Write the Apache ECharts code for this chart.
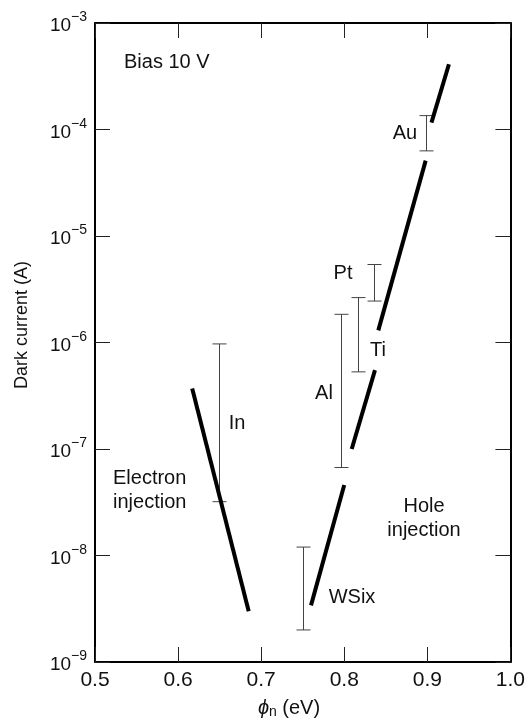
<!DOCTYPE html>
<html lang="en">
<head>
  <meta charset="UTF-8">
  <title>Dark current vs barrier height</title>
  <style>
    body { margin: 0; padding: 0; background: #fff; }
    #chart-container { width: 528px; height: 720px; }
  </style>
</head>
<body>
  <div id="chart-container"></div>
  <script src="https://cdn.jsdelivr.net/npm/echarts@6/dist/echarts.min.js"></script>
  <script>
// ticks
var xTicks = [0.5, 0.6, 0.7, 0.8, 0.9, 1.0];
var yDecades = [-9, -8, -7, -6, -5, -4, -3];

// thick trend lines (phi_n in eV, current in A)
var electronLine = [[0.617, 3.7e-7], [0.685, 3.0e-9]];
var holeSegments = [
  [[0.760, 3.4e-9], [0.800, 4.6e-8]],
  [[0.809, 1.0e-7], [0.837, 5.5e-7]],
  [[0.841, 1.3e-6], [0.898, 5.1e-5]],
  [[0.905, 1.16e-4], [0.926, 4.1e-4]]
];

// measured ranges per contact metal
var metals = ['In', 'Au', 'Pt', 'Ti', 'Al', 'WSix'];
var barX = [0.649, 0.899, 0.836, 0.8165, 0.7965, 0.750];
var barLow = [3.2e-8, 6.3e-5, 2.45e-6, 5.3e-7, 6.7e-8, 2.0e-9];
var barHigh = [9.7e-7, 1.35e-4, 5.4e-6, 2.64e-6, 1.84e-6, 1.2e-8];

var FONT = '"Liberation Sans", Arial, sans-serif';

var chart = echarts.init(document.getElementById('chart-container'));

var barData = metals.map(function (m, i) {
  return { name: m, value: [barX[i], barLow[i], barHigh[i]] };
});

var seriesList = [];
seriesList.push({
  type: 'line',
  data: electronLine,
  showSymbol: false,
  silent: true,
  lineStyle: { color: '#000', width: 4, cap: 'butt' }
});
holeSegments.forEach(function (seg) {
  seriesList.push({
    type: 'line',
    data: seg,
    showSymbol: false,
    silent: true,
    lineStyle: { color: '#000', width: 4, cap: 'butt' }
  });
});
seriesList.push({
  type: 'custom',
  data: barData,
  silent: true,
  renderItem: function (params, api) {
    var lo = api.coord([api.value(0), api.value(1)]);
    var hi = api.coord([api.value(0), api.value(2)]);
    var x = Math.round(lo[0]) + 0.5;
    var hw = 7;
    var st = { stroke: '#444', lineWidth: 1 };
    return {
      type: 'group',
      children: [
        { type: 'line', shape: { x1: x, y1: lo[1], x2: x, y2: hi[1] }, style: st },
        { type: 'line', shape: { x1: x - hw, y1: lo[1], x2: x + hw, y2: lo[1] }, style: st },
        { type: 'line', shape: { x1: x - hw, y1: hi[1], x2: x + hw, y2: hi[1] }, style: st }
      ]
    };
  }
});

function txt(text, x, y, extra) {
  var o = {
    type: 'text', x: x, y: y,
    style: { text: text, font: '20px ' + FONT, fill: '#111', align: 'center', verticalAlign: 'middle' }
  };
  if (extra) { for (var k in extra) o.style[k] = extra[k]; }
  return o;
}

var option = {
  animation: false,
  grid: { left: 95, right: 17, top: 23, bottom: 58 },
  xAxis: [{
    type: 'value', min: 0.5, max: 1.0, interval: 0.1,
    axisLine: { lineStyle: { color: '#000', width: 2 } },
    axisTick: { inside: true, length: 15, lineStyle: { color: '#222', width: 1 } },
    axisLabel: {
      margin: 8, color: '#111', fontSize: 21, fontFamily: FONT,
      formatter: function (v) { return v.toFixed(1); }
    },
    splitLine: { show: false }
  }, {
    type: 'value', min: 0.5, max: 1.0, interval: 0.1, position: 'top',
    axisLine: { lineStyle: { color: '#000', width: 2 } },
    axisTick: { inside: true, length: 15, lineStyle: { color: '#222', width: 1 } },
    axisLabel: { show: false },
    splitLine: { show: false }
  }],
  yAxis: [{
    type: 'log', logBase: 10, min: 1e-9, max: 1e-3,
    axisLine: { show: true, lineStyle: { color: '#000', width: 2 } },
    axisTick: { show: true, inside: true, length: 15, lineStyle: { color: '#222', width: 1 } },
    axisLabel: {
      margin: 8, color: '#111',
      formatter: function (v) {
        var e = Math.round(Math.log10(v));
        return '{b|10}{s|\u2212' + Math.abs(e) + '}';
      },
      rich: {
        b: { fontSize: 19, fontFamily: FONT, color: '#111', verticalAlign: 'bottom' },
        s: { fontSize: 14, fontFamily: FONT, color: '#111', verticalAlign: 'top', padding: [0, 0, 11, 0] }
      }
    },
    splitLine: { show: false }
  }, {
    type: 'log', logBase: 10, min: 1e-9, max: 1e-3, position: 'right',
    axisLine: { show: true, lineStyle: { color: '#000', width: 2 } },
    axisTick: { show: true, inside: true, length: 15, lineStyle: { color: '#222', width: 1 } },
    axisLabel: { show: false },
    splitLine: { show: false }
  }],
  series: seriesList,
  graphic: [
    txt('Bias 10 V', 124, 62, { align: 'left' }),
    txt('Au', 405, 133),
    txt('Pt', 343, 273),
    txt('Ti', 378, 350),
    txt('Al', 324, 393),
    txt('In', 237, 423),
    txt('WSix', 352, 597),
    txt('Electron\ninjection', 113, 490, { align: 'left', lineHeight: 24 }),
    txt('Hole\ninjection', 424, 518, { lineHeight: 24 }),
    {
      type: 'text', x: 22, y: 325, rotation: Math.PI / 2,
      style: { text: 'Dark current (A)', font: '18px ' + FONT, fill: '#111', align: 'center', verticalAlign: 'middle' }
    },
    {
      type: 'text', x: 289, y: 708,
      style: {
        text: '{p|\u03d5}{n|n}{t| (eV)}', align: 'center', verticalAlign: 'middle',
        rich: {
          p: { fontSize: 20, fontFamily: FONT, fontStyle: 'italic', fill: '#111' },
          n: { fontSize: 14, fontFamily: FONT, fill: '#111', padding: [9, 0, 0, 0] },
          t: { fontSize: 20, fontFamily: FONT, fill: '#111' }
        }
      }
    }
  ]
};

chart.setOption(option);
  </script>
</body>
</html>
